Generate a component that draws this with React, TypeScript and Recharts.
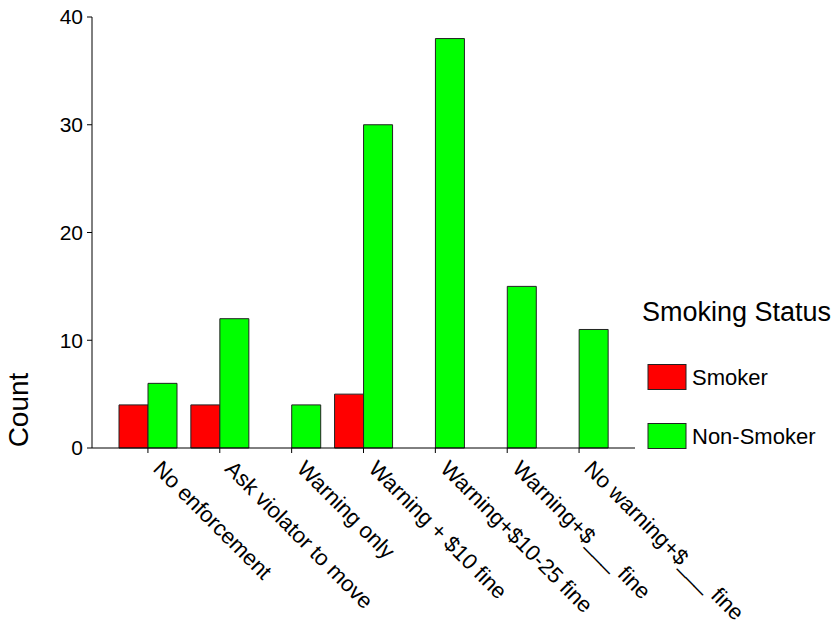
import { BarChart, Bar, XAxis, YAxis } from "recharts";

const categories = [
  "No enforcement",
  "Ask violator to move",
  "Warning only",
  "Warning + $10 fine",
  "Warning+$10-25 fine",
  "Warning+$___ fine",
  "No warning+$___ fine",
];
const smoker = [4, 4, 0, 5, 0, 0, 0];
const nonSmoker = [6, 12, 4, 30, 38, 15, 11];
const yTicks = [0, 10, 20, 30, 40];

const FONT = "'Liberation Sans', Arial, sans-serif";

const data = categories.map((name, i) => ({
  name,
  smoker: smoker[i],
  nonSmoker: nonSmoker[i],
}));

function SlantTick(props: any) {
  const { x, y, payload } = props;
  const tx = x + 4;
  const ty = y + 15;
  return (
    <text
      x={tx}
      y={ty}
      transform={`rotate(45, ${tx}, ${ty})`}
      textAnchor="start"
      fontSize={22}
      fontFamily={FONT}
      fill="#000"
    >
      {payload.value}
    </text>
  );
}

function CountLabel() {
  return (
    <text
      x={28}
      y={410}
      transform="rotate(-90, 28, 410)"
      textAnchor="middle"
      fontSize={28}
      fontFamily={FONT}
      fill="#000"
    >
      Count
    </text>
  );
}

export default function App() {
  return (
    <div style={{ position: "absolute", left: 0, top: 0, width: 839, height: 624, background: "#fff" }}>
      <BarChart
        width={839}
        height={624}
        data={data}
        margin={{ top: 17, right: 204, left: 0, bottom: 6 }}
        barSize={29}
        barGap={0}
      >
        <XAxis
          dataKey="name"
          interval={0}
          height={170}
          padding={{ left: 20, right: 20 }}
          axisLine={{ stroke: "#000", strokeWidth: 1 }}
          tickLine={{ stroke: "#000" }}
          tickSize={5}
          tick={<SlantTick />}
        />
        <XAxis
          xAxisId="top"
          orientation="top"
          dataKey="name"
          height={0}
          tick={false}
          tickLine={false}
          axisLine={{ stroke: "#808080", strokeWidth: 1 }}
        />
        <YAxis
          width={92}
          domain={[0, 40]}
          ticks={yTicks}
          interval={0}
          axisLine={{ stroke: "#000", strokeWidth: 1 }}
          tickLine={{ stroke: "#000" }}
          tickSize={5}
          tickMargin={4}
          tick={{ fontSize: 21, fontFamily: FONT, fill: "#000" }}
          label={<CountLabel />}
        />
        <YAxis
          yAxisId="right"
          orientation="right"
          width={0}
          domain={[0, 40]}
          tick={false}
          tickLine={false}
          axisLine={{ stroke: "#808080", strokeWidth: 1 }}
        />
        <Bar dataKey="smoker" fill="#ff0000" stroke="#222" strokeWidth={1} isAnimationActive={false} />
        <Bar dataKey="nonSmoker" fill="#00ff00" stroke="#222" strokeWidth={1} isAnimationActive={false} />
      </BarChart>

      <svg
        width={839}
        height={624}
        style={{ position: "absolute", left: 0, top: 0, pointerEvents: "none" }}
      >
        <text x={642} y={321} fontSize={27} fontFamily={FONT} fill="#000">
          Smoking Status
        </text>
        <rect x={648} y={364.5} width={38} height={25} fill="#ff0000" stroke="#222" />
        <text x={692} y={385} fontSize={22} fontFamily={FONT} fill="#000">
          Smoker
        </text>
        <rect x={648} y={423.5} width={38} height={25} fill="#00ff00" stroke="#222" />
        <text x={692} y={444} fontSize={22} fontFamily={FONT} fill="#000">
          Non-Smoker
        </text>
      </svg>
    </div>
  );
}
